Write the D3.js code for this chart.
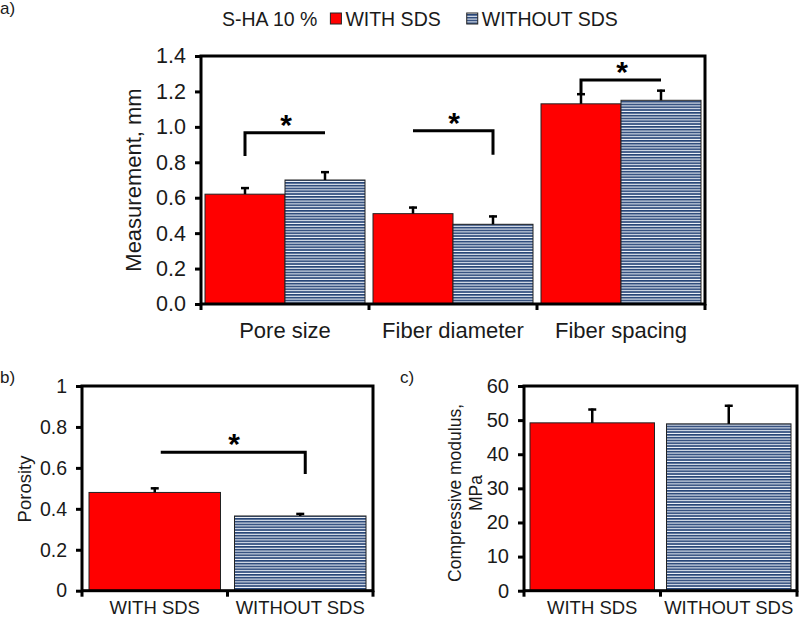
<!DOCTYPE html>
<html>
<head>
<meta charset="utf-8">
<script src="https://cdn.jsdelivr.net/npm/d3@7"></script>
<style>
  body { margin: 0; background: #fff; }
  svg { font-family: "Liberation Sans", Arial, sans-serif; }
</style>
</head>
<body>
<script>
// panel a
var catsA = ["Pore size", "Fiber diameter", "Fiber spacing"];
var seriesNames = ["WITH SDS", "WITHOUT SDS"];
var withSds = [0.62, 0.51, 1.13];
var withSdsErr = [0.04, 0.04, 0.06];
var withoutSds = [0.70, 0.45, 1.15];
var withoutSdsErr = [0.05, 0.05, 0.06];
var ticksA = [0, 0.2, 0.4, 0.6, 0.8, 1.0, 1.2, 1.4];
// brackets: category, level, drop end, drop to
var bracketsA = [
  {cat: 0, level: 0.967, drop: 0, to: 0.836},
  {cat: 1, level: 0.978, drop: 1, to: 0.842},
  {cat: 2, level: 1.265, drop: 0, to: 1.19}
];

// panel b
var porosity = [0.48, 0.365];
var porosityErr = [0.025, 0.015];
var ticksB = [0, 0.2, 0.4, 0.6, 0.8, 1];
var bracketB = {level: 0.676, drop: 1, to: 0.57};

// panel c
var modulus = [49.2, 48.9];
var modulusErr = [4.2, 5.6];
var ticksC = [0, 10, 20, 30, 40, 50, 60];

var W = 800, H = 619;
var svg = d3.select("body").append("svg").attr("width", W).attr("height", H);

var defs = svg.append("defs");
var pat = defs.append("pattern").attr("id", "stripes")
  .attr("patternUnits", "userSpaceOnUse").attr("width", 8).attr("height", 2.8);
pat.append("rect").attr("width", 8).attr("height", 2.8).attr("fill", "#f2f5fb");
pat.append("rect").attr("y", 0).attr("width", 8).attr("height", 1.7).attr("fill", "#274577");

var fills = ["#ff0000", "url(#stripes)"];

function frame(g, x0, x1, y0, y1) {
  g.append("rect").attr("x", x0).attr("y", y0)
    .attr("width", x1 - x0).attr("height", y1 - y0)
    .attr("fill", "none").attr("stroke", "#000").attr("stroke-width", 3);
}

function yAxis(g, y, x0, ticks, fmt, fs) {
  var ax = d3.axisLeft(y).tickValues(ticks).tickFormat(fmt).tickSize(6).tickPadding(9);
  var a = g.append("g").attr("transform", "translate(" + x0 + ",0)").call(ax);
  a.select(".domain").remove();
  a.selectAll("line").attr("stroke", "#000").attr("stroke-width", 3);
  a.selectAll("text").attr("font-size", fs).attr("fill", "#1a1a1a")
    .attr("font-family", "Liberation Sans, Arial, sans-serif");
}

function xTicks(g, x, yb) {
  var edges = x.domain().map(function(d) { return x(d); });
  edges.push(x.range()[1]);
  g.selectAll(".xt").data(edges).enter().append("line")
    .attr("x1", function(d) { return d; }).attr("x2", function(d) { return d; })
    .attr("y1", yb).attr("y2", yb + 6)
    .attr("stroke", "#000").attr("stroke-width", 3);
}

function errBar(g, cx, y0, y1) {
  g.append("line").attr("x1", cx).attr("x2", cx).attr("y1", y0).attr("y2", y1)
    .attr("stroke", "#000").attr("stroke-width", 2.5);
  g.append("line").attr("x1", cx - 4).attr("x2", cx + 4).attr("y1", y1 + 1).attr("y2", y1 + 1)
    .attr("stroke", "#000").attr("stroke-width", 2.5);
}

function bracket(g, xa, xb, yl, xd, yd) {
  g.append("path")
    .attr("d", "M" + xa + "," + yl + "H" + xb + "M" + xd + "," + (yl - 1.5) + "V" + yd)
    .attr("fill", "none").attr("stroke", "#000").attr("stroke-width", 3);
  g.append("text").attr("x", (xa + xb) / 2 + 1).attr("y", yl + 2)
    .attr("text-anchor", "middle").attr("font-size", 30).attr("font-weight", "bold")
    .attr("fill", "#000").text("*");
}

// ---------- panel a ----------
var gA = svg.append("g");
var xA = d3.scaleBand().domain(catsA).range([201, 705]);
var sA = d3.scaleBand().domain([0, 1]).range([0, xA.bandwidth()]).paddingOuter(0.05).paddingInner(0);
var yA = d3.scaleLinear().domain([0, 1.4]).range([304, 56]);

var rowsA = catsA.map(function(c, i) {
  return [
    {cat: c, s: 0, v: withSds[i], e: withSdsErr[i]},
    {cat: c, s: 1, v: withoutSds[i], e: withoutSdsErr[i]}
  ];
});
rowsA.forEach(function(row) {
  row.forEach(function(d) {
    var x = xA(d.cat) + sA(d.s);
    gA.append("rect").attr("x", x).attr("y", yA(d.v))
      .attr("width", sA.bandwidth()).attr("height", yA(0) - yA(d.v))
      .attr("fill", fills[d.s]).attr("stroke", "#222").attr("stroke-width", 1);
    errBar(gA, x + sA.bandwidth() / 2, yA(d.v), yA(d.v + d.e));
  });
});
bracketsA.forEach(function(b) {
  var c = catsA[b.cat];
  var xa = xA(c) + sA(0) + sA.bandwidth() / 2;
  var xb = xA(c) + sA(1) + sA.bandwidth() / 2;
  bracket(gA, xa, xb, yA(b.level), b.drop ? xb : xa, yA(b.to));
});
frame(gA, 201, 705, 56, 304);
yAxis(gA, yA, 201, ticksA, d3.format(".1f"), 21.5);
xTicks(gA, xA, 304);
gA.selectAll(".cl").data(catsA).enter().append("text")
  .attr("x", function(d) { return xA(d) + xA.bandwidth() / 2; })
  .attr("y", 338).attr("text-anchor", "middle").attr("font-size", 22).attr("fill", "#1a1a1a")
  .text(function(d) { return d; });
gA.append("text").attr("transform", "translate(141,180) rotate(-90)")
  .attr("text-anchor", "middle").attr("font-size", 22).attr("fill", "#1a1a1a")
  .text("Measurement, mm");
svg.append("text").attr("x", 0).attr("y", 14).attr("font-size", 17).attr("fill", "#1a1a1a").text("a)");

// legend
var leg = svg.append("g");
var lx = 222, ly = 26;
var t0 = leg.append("text").attr("x", lx).attr("y", ly).attr("font-size", 19.5).attr("fill", "#1a1a1a").text("S-HA 10 %");
lx += t0.node().getComputedTextLength() + 13;
seriesNames.forEach(function(n, i) {
  leg.append("rect").attr("x", lx).attr("y", ly - 13).attr("width", 11).attr("height", 11)
    .attr("fill", fills[i]).attr("stroke", "#222").attr("stroke-width", 1);
  var t = leg.append("text").attr("x", lx + 15).attr("y", ly).attr("font-size", 19.5).attr("fill", "#1a1a1a").text(n);
  lx += 15 + t.node().getComputedTextLength() + 26;
});

// ---------- panel b ----------
var gB = svg.append("g");
var xB = d3.scaleBand().domain(seriesNames).range([82, 373]);
var yB = d3.scaleLinear().domain([0, 1]).range([590.7, 386]);
var padB = 7;
seriesNames.forEach(function(n, i) {
  var x = xB(n) + padB;
  gB.append("rect").attr("x", x).attr("y", yB(porosity[i]))
    .attr("width", xB.bandwidth() - 2 * padB).attr("height", yB(0) - yB(porosity[i]))
    .attr("fill", fills[i]).attr("stroke", "#222").attr("stroke-width", 1);
  errBar(gB, xB(n) + xB.bandwidth() / 2, yB(porosity[i]), yB(porosity[i] + porosityErr[i]));
});
(function() {
  var xa = xB(seriesNames[0]) + xB.bandwidth() / 2;
  var xb = xB(seriesNames[1]) + xB.bandwidth() / 2 + 5;
  bracket(gB, xa + 6, xb, yB(bracketB.level), xb, yB(bracketB.to));
})();
frame(gB, 82, 373, 386, 590.7);
yAxis(gB, yB, 82, ticksB, d3.format("~g"), 19.5);
xTicks(gB, xB, 590.7);
gB.selectAll(".cl").data(seriesNames).enter().append("text")
  .attr("x", function(d) { return xB(d) + xB.bandwidth() / 2; })
  .attr("y", 614).attr("text-anchor", "middle").attr("font-size", 18.5).attr("fill", "#1a1a1a")
  .text(function(d) { return d; });
gB.append("text").attr("transform", "translate(31,489) rotate(-90)")
  .attr("text-anchor", "middle").attr("font-size", 18.5).attr("fill", "#1a1a1a").text("Porosity");
svg.append("text").attr("x", 0).attr("y", 383).attr("font-size", 17).attr("fill", "#1a1a1a").text("b)");

// ---------- panel c ----------
var gC = svg.append("g");
var xC = d3.scaleBand().domain(seriesNames).range([524, 797]);
var yC = d3.scaleLinear().domain([0, 60]).range([590.7, 386]);
var padC = 6;
seriesNames.forEach(function(n, i) {
  var x = xC(n) + padC;
  gC.append("rect").attr("x", x).attr("y", yC(modulus[i]))
    .attr("width", xC.bandwidth() - 2 * padC).attr("height", yC(0) - yC(modulus[i]))
    .attr("fill", fills[i]).attr("stroke", "#222").attr("stroke-width", 1);
  errBar(gC, xC(n) + xC.bandwidth() / 2, yC(modulus[i]), yC(modulus[i] + modulusErr[i]));
});
frame(gC, 524, 797, 386, 590.7);
yAxis(gC, yC, 524, ticksC, d3.format("~g"), 20);
xTicks(gC, xC, 590.7);
gC.selectAll(".cl").data(seriesNames).enter().append("text")
  .attr("x", function(d) { return xC(d) + xC.bandwidth() / 2; })
  .attr("y", 614).attr("text-anchor", "middle").attr("font-size", 18.5).attr("fill", "#1a1a1a")
  .text(function(d) { return d; });
var tc = gC.append("text").attr("transform", "translate(461,493) rotate(-90)")
  .attr("text-anchor", "middle").attr("font-size", 17.5).attr("fill", "#1a1a1a");
tc.append("tspan").attr("x", 0).attr("dy", 0).text("Compressive modulus,");
tc.append("tspan").attr("x", 0).attr("dy", 21).text("MPa");
svg.append("text").attr("x", 400).attr("y", 383).attr("font-size", 17).attr("fill", "#1a1a1a").text("c)");
</script>
</body>
</html>
